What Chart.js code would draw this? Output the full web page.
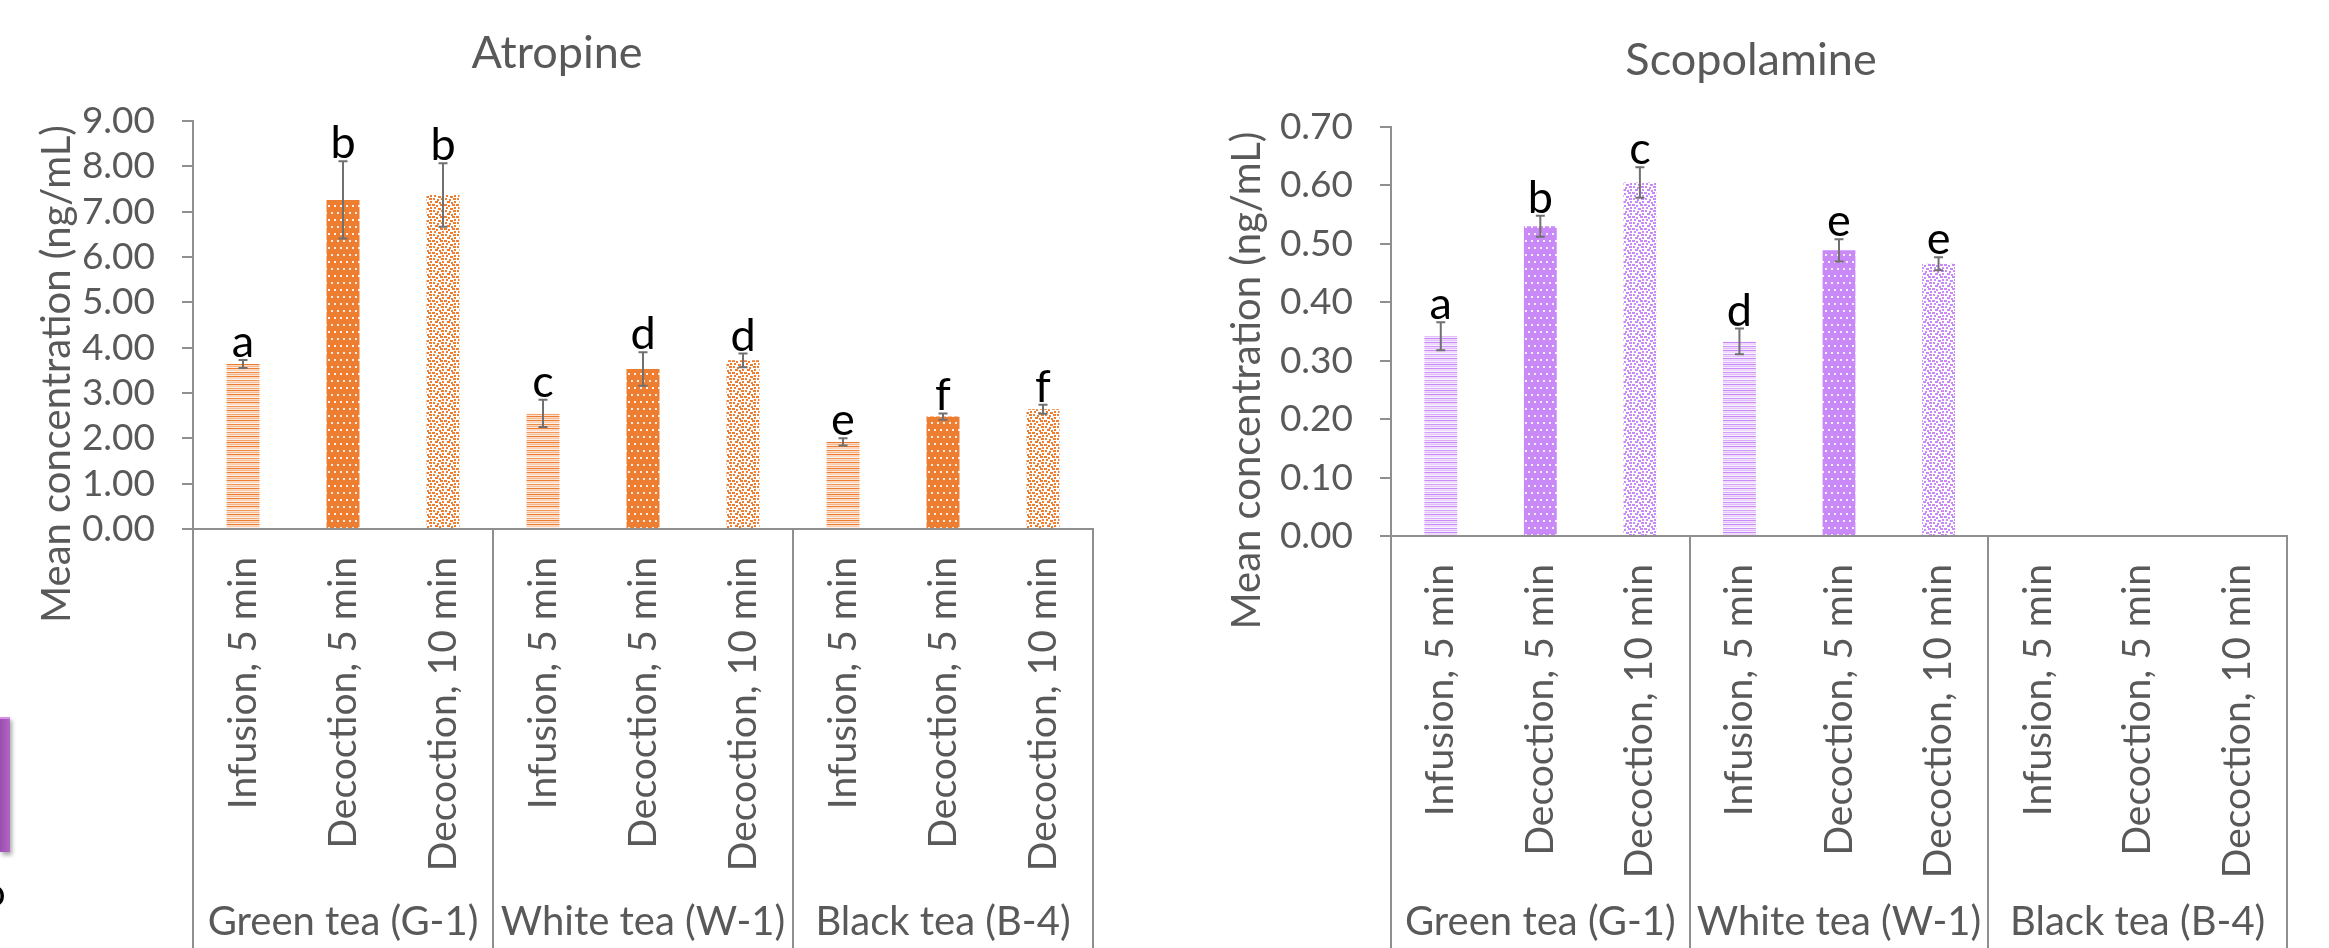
<!DOCTYPE html>
<html>
<head>
<meta charset="utf-8">
<script src="https://cdn.jsdelivr.net/npm/chart.js@4.4.1/dist/chart.umd.min.js"></script>
<style>
  html, body { margin: 0; padding: 0; background: #fff; }
  #wrap { position: relative; width: 2329px; height: 948px; overflow: hidden; }
  #c1 { position: absolute; left: 0; top: 0; }
  #c2 { position: absolute; left: 1164px; top: 0; }
  #frag { position: absolute; left: 0; top: 717px; width: 10px; height: 133px;
          background: linear-gradient(90deg, #9a4fb0, #b166c6); border-top: 2px solid #d98ee8;
          box-shadow: 2px 3px 4px rgba(0,0,0,0.35); }
  #fragtxt { position: absolute; left: -16px; top: 868px; font: 38px Lato, sans-serif; color: #000; }
</style>
</head>
<body>
<div id="wrap">
  <canvas id="c1" width="1164" height="948"></canvas>
  <canvas id="c2" width="1165" height="948"></canvas>
  <div id="frag"></div>
  <div id="fragtxt">o</div>
</div>
<script>
// categories
const groups = ['Green tea (G-1)', 'White tea (W-1)', 'Black tea (B-4)'];
const methods = ['Infusion, 5 min', 'Decoction, 5 min', 'Decoction, 10 min'];

// Atropine (ng/mL)
const atropineMean = [3.64, 7.26, 7.37, 2.55, 3.53, 3.72, 1.92, 2.48, 2.64];
const atropineErr = [0.09, 0.85, 0.70, 0.30, 0.37, 0.15, 0.08, 0.07, 0.10];
const atropineLetters = ['a', 'b', 'b', 'c', 'd', 'd', 'e', 'f', 'f'];
const atropineTicks = { max: 9, step: 1 };

// Scopolamine (ng/mL) - nothing for black tea
const scopMean = [0.342, 0.530, 0.605, 0.333, 0.489, 0.466, null, null, null];
const scopErr = [0.024, 0.018, 0.026, 0.022, 0.019, 0.011, null, null, null];
const scopLetters = ['a', 'b', 'c', 'd', 'e', 'e', '', '', ''];
const scopTicks = { max: 0.7, step: 0.1 };

const labels = [];
groups.forEach(() => methods.forEach(m => labels.push(m)));

const FONT = 'Lato, "Open Sans", sans-serif';
const GREY = '#595959';
const LINE = '#8f8f8f';

// fill patterns like the excel ones
function stripes(color) {
  const c = document.createElement('canvas');
  c.width = 4; c.height = 26;
  const g = c.getContext('2d');
  g.fillStyle = color;
  const alphas = [1, .55, 1, .35, .9, .6, 1, .3, .8, .5, 1, .4, .7];
  alphas.forEach((a, i) => {
    g.globalAlpha = a; g.fillRect(0, i * 2, 4, 1);
    g.globalAlpha = a * 0.3; g.fillRect(0, i * 2 + 1, 4, 1);
  });
  return g.createPattern(c, 'repeat');
}
function dots(color) {
  const c = document.createElement('canvas');
  c.width = 12; c.height = 14;
  const g = c.getContext('2d');
  g.fillStyle = color; g.fillRect(0, 0, 12, 14);
  g.fillStyle = 'rgba(255,255,255,0.85)';
  [[1, 2], [7, 2], [4, 9], [10, 9]].forEach(p => g.fillRect(p[0], p[1], 2, 2));
  return g.createPattern(c, 'repeat');
}
function confetti(color) {
  const c = document.createElement('canvas');
  c.width = 12; c.height = 12;
  const g = c.getContext('2d');
  g.fillStyle = color;
  [[0, 0, 3], [4, 1, 2], [8, 0, 3], [2, 3, 2], [6, 4, 3], [10, 3, 2],
   [1, 6, 2], [5, 7, 2], [9, 6, 3], [3, 9, 3], [7, 10, 2], [10, 9, 2]]
    .forEach(p => g.fillRect(p[0], p[1], p[2], 2));
  return g.createPattern(c, 'repeat');
}
function fills(color) {
  const set = [stripes(color), dots(color), confetti(color)];
  return labels.map((l, i) => set[i % 3]);
}

const extras = {
  id: 'extras',
  afterDatasetsDraw(chart, args, o) {
    const ctx = chart.ctx, xs = chart.scales.x, ys = chart.scales.y;
    ctx.save();
    o.mean.forEach((v, i) => {
      if (v == null) return;
      const px = xs.getPixelForValue(i);
      const hi = ys.getPixelForValue(v + o.err[i]);
      const lo = ys.getPixelForValue(v - o.err[i]);
      ctx.strokeStyle = '#707070';
      ctx.lineWidth = 2;
      ctx.beginPath();
      ctx.moveTo(px, hi); ctx.lineTo(px, lo);
      ctx.moveTo(px - 4.5, hi); ctx.lineTo(px + 4.5, hi);
      ctx.moveTo(px - 4.5, lo); ctx.lineTo(px + 4.5, lo);
      ctx.stroke();
      ctx.fillStyle = '#000';
      ctx.font = '45px ' + FONT;
      ctx.textAlign = 'center';
      ctx.textBaseline = 'alphabetic';
      ctx.fillText(o.letters[i], px, hi - 3);
    });
    ctx.restore();
  },
  afterDraw(chart, args, o) {
    const ctx = chart.ctx, area = chart.chartArea;
    const H = chart.height;
    const step = (area.right - area.left) / labels.length;
    ctx.save();
    // multi-level category box
    ctx.strokeStyle = LINE;
    ctx.lineWidth = 2;
    ctx.beginPath();
    for (let g = 0; g <= groups.length; g++) {
      const gx = Math.round(area.left + g * 3 * step);
      ctx.moveTo(gx, area.bottom); ctx.lineTo(gx, H);
    }
    ctx.stroke();
    ctx.fillStyle = GREY;
    ctx.font = '40px ' + FONT;
    ctx.textAlign = 'center';
    ctx.textBaseline = 'alphabetic';
    groups.forEach((name, g) => {
      ctx.fillText(name, area.left + (g * 3 + 1.5) * step, H - 13);
    });
    // chart title
    ctx.font = '45px ' + FONT;
    ctx.fillText(o.title, o.titleX, o.titleY);
    // y axis title
    ctx.translate(o.axisX, (area.top + area.bottom) / 2 + 49);
    ctx.rotate(-Math.PI / 2);
    ctx.font = '40px ' + FONT;
    ctx.fillText('Mean concentration (ng/mL)', 0, 0);
    ctx.restore();
  }
};

function makeChart(id, mean, err, letters, ticks, color, box, title) {
  return new Chart(document.getElementById(id), {
    type: 'bar',
    data: {
      labels: labels,
      datasets: [{
        data: mean,
        backgroundColor: fills(color),
        borderWidth: 0,
        barPercentage: 0.33,
        categoryPercentage: 1
      }]
    },
    options: {
      responsive: false,
      animation: false,
      layout: { padding: { left: 0, top: box.top, right: box.right, bottom: 0 } },
      plugins: {
        legend: { display: false },
        tooltip: { enabled: false },
        extras: { mean: mean, err: err, letters: letters, title: title,
                  titleX: box.titleX, titleY: box.titleY, axisX: box.axisX }
      },
      scales: {
        x: {
          afterFit: s => { s.height = box.xh; },
          grid: { display: false, drawTicks: false },
          border: { display: true, color: LINE, width: 2 },
          ticks: {
            autoSkip: false, maxRotation: 90, minRotation: 90, padding: 28,
            color: GREY, font: { family: FONT, size: 39 }
          }
        },
        y: {
          min: 0, max: ticks.max,
          afterFit: s => { s.width = box.yw; },
          grid: { drawOnChartArea: false, drawTicks: true, tickLength: 11, color: LINE, lineWidth: 2 },
          border: { display: true, color: LINE, width: 2 },
          ticks: {
            stepSize: ticks.step, autoSkip: false, padding: 27, color: GREY,
            font: { family: FONT, size: 37 },
            callback: v => Number(v).toFixed(2)
          }
        }
      }
    },
    plugins: [extras]
  });
}

makeChart('c1', atropineMean, atropineErr, atropineLetters, atropineTicks, '#ED7D31',
  { top: 121, right: 71, xh: 419, yw: 193, titleX: 557, titleY: 68, axisX: 70 }, 'Atropine');
makeChart('c2', scopMean, scopErr, scopLetters, scopTicks, '#C98AF7',
  { top: 127, right: 42, xh: 412, yw: 227, titleX: 587, titleY: 75, axisX: 96 }, 'Scopolamine');
</script>
</body>
</html>
